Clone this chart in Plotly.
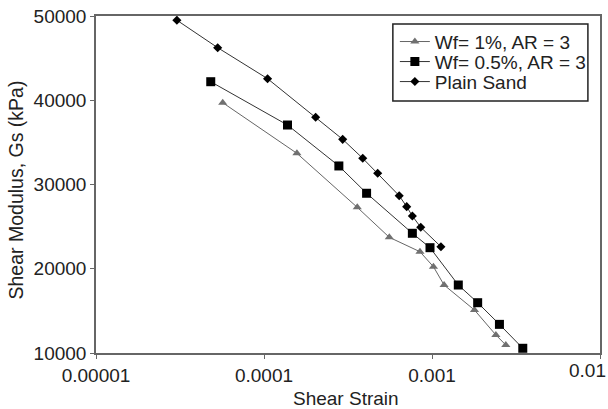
import plotly.graph_objects as go

# Data (shear strain, shear modulus kPa)
plain_strain = [3.03e-5, 5.3e-5, 1.05e-4, 2.03e-4, 2.94e-4, 3.87e-4, 4.75e-4, 6.38e-4, 7.07e-4, 7.64e-4, 8.57e-4, 1.13e-3]
plain_g = [49500, 46240, 42560, 37980, 35360, 33110, 31330, 28670, 27370, 26260, 24920, 22620]

sq_strain = [4.82e-5, 1.38e-4, 2.79e-4, 4.08e-4, 7.64e-4, 9.73e-4, 1.434e-3, 1.87e-3, 2.52e-3, 3.47e-3]
sq_g = [42200, 37060, 32200, 28960, 24210, 22500, 18070, 15970, 13400, 10560]

tri_strain = [5.68e-5, 1.57e-4, 3.59e-4, 5.57e-4, 8.48e-4, 1.02e-3, 1.18e-3, 1.79e-3, 2.40e-3, 2.75e-3]
tri_g = [39710, 33700, 27290, 23730, 22020, 20240, 18070, 15100, 12140, 10950]

series_names = ["Wf= 1%, AR = 3", "Wf= 0.5%, AR = 3", "Plain Sand"]

x_tickvals = [0.00001, 0.0001, 0.001, 0.01]
x_ticktext = ["0.00001", "0.0001", "0.001", ""]
x_last_label = "0.01"
y_tickvals = [10000, 20000, 30000, 40000, 50000]
x_title = "Shear Strain"
y_title = "Shear Modulus, Gs (kPa)"

font = "Liberation Sans, Arial, sans-serif"
fs = 19
tc = "#222222"

fig = go.Figure()
fig.add_trace(go.Scatter(
    x=tri_strain, y=tri_g, name=series_names[0], mode="lines+markers",
    legend="legend",
    line=dict(color="#666666", width=1),
    marker=dict(symbol="triangle-up", size=8, color="#707070"),
))
fig.add_trace(go.Scatter(
    x=sq_strain, y=sq_g, name=series_names[1], mode="lines+markers",
    legend="legend2",
    line=dict(color="#333333", width=1),
    marker=dict(symbol="square", size=9, color="#000000"),
))
fig.add_trace(go.Scatter(
    x=plain_strain, y=plain_g, name=series_names[2], mode="lines+markers",
    legend="legend3",
    line=dict(color="#333333", width=1),
    marker=dict(symbol="diamond", size=7, color="#000000"),
))

def leg(y):
    return dict(
        x=0.593, y=y, xanchor="left", yanchor="middle",
        bgcolor="rgba(0,0,0,0)", borderwidth=0,
        font=dict(family=font, size=fs, color=tc),
        itemsizing="trace", itemwidth=30,
    )

fig.update_layout(
    width=608, height=409,
    margin=dict(l=96, r=8, t=16, b=56),
    paper_bgcolor="white", plot_bgcolor="white",
    font=dict(family=font, size=fs, color=tc),
    showlegend=True,
    legend=leg(0.9238),
    legend2=leg(0.8644),
    legend3=leg(0.805),
    shapes=[dict(type="rect", xref="paper", yref="paper",
                 x0=0.589, x1=0.976, y0=0.748, y1=0.976,
                 line=dict(color=tc, width=1.5), fillcolor="white", layer="above")],
    xaxis=dict(
        type="log", range=[-5, -2], automargin=False,
        tickvals=x_tickvals, ticktext=x_ticktext,
        ticks="outside", ticklen=4, tickcolor="#666666",
        showline=True, linecolor="#666666", linewidth=1.5, mirror=True,
        showgrid=False, zeroline=False,
        tickfont=dict(family=font, size=fs, color=tc),
    ),
    yaxis=dict(
        range=[10000, 50000], automargin=False,
        tickvals=y_tickvals, tickformat="d",
        ticks="outside", ticklen=4, tickcolor="#666666",
        showline=True, linecolor="#666666", linewidth=1.5, mirror=True,
        showgrid=False, zeroline=False,
        tickfont=dict(family=font, size=fs, color=tc),
    ),
    annotations=[
        dict(text=x_last_label, xref="paper", yref="paper", x=1, y=0,
             xanchor="right", yanchor="top", xshift=8, yshift=-5,
             showarrow=False, font=dict(family=font, size=fs, color=tc)),
        dict(text=x_title, xref="paper", yref="paper", x=0.5, y=0,
             xanchor="center", yanchor="middle", xshift=-2, yshift=-45,
             showarrow=False, font=dict(family=font, size=19, color=tc)),
        dict(text=y_title, xref="paper", yref="paper", x=0, y=0.5,
             xanchor="center", yanchor="middle", xshift=-81, yshift=-6,
             textangle=-90, showarrow=False,
             font=dict(family=font, size=19.5, color=tc)),
    ],
)

fig.write_html("out.html", config={"displayModeBar": False},
               post_script="document.body.style.margin='0px';")
